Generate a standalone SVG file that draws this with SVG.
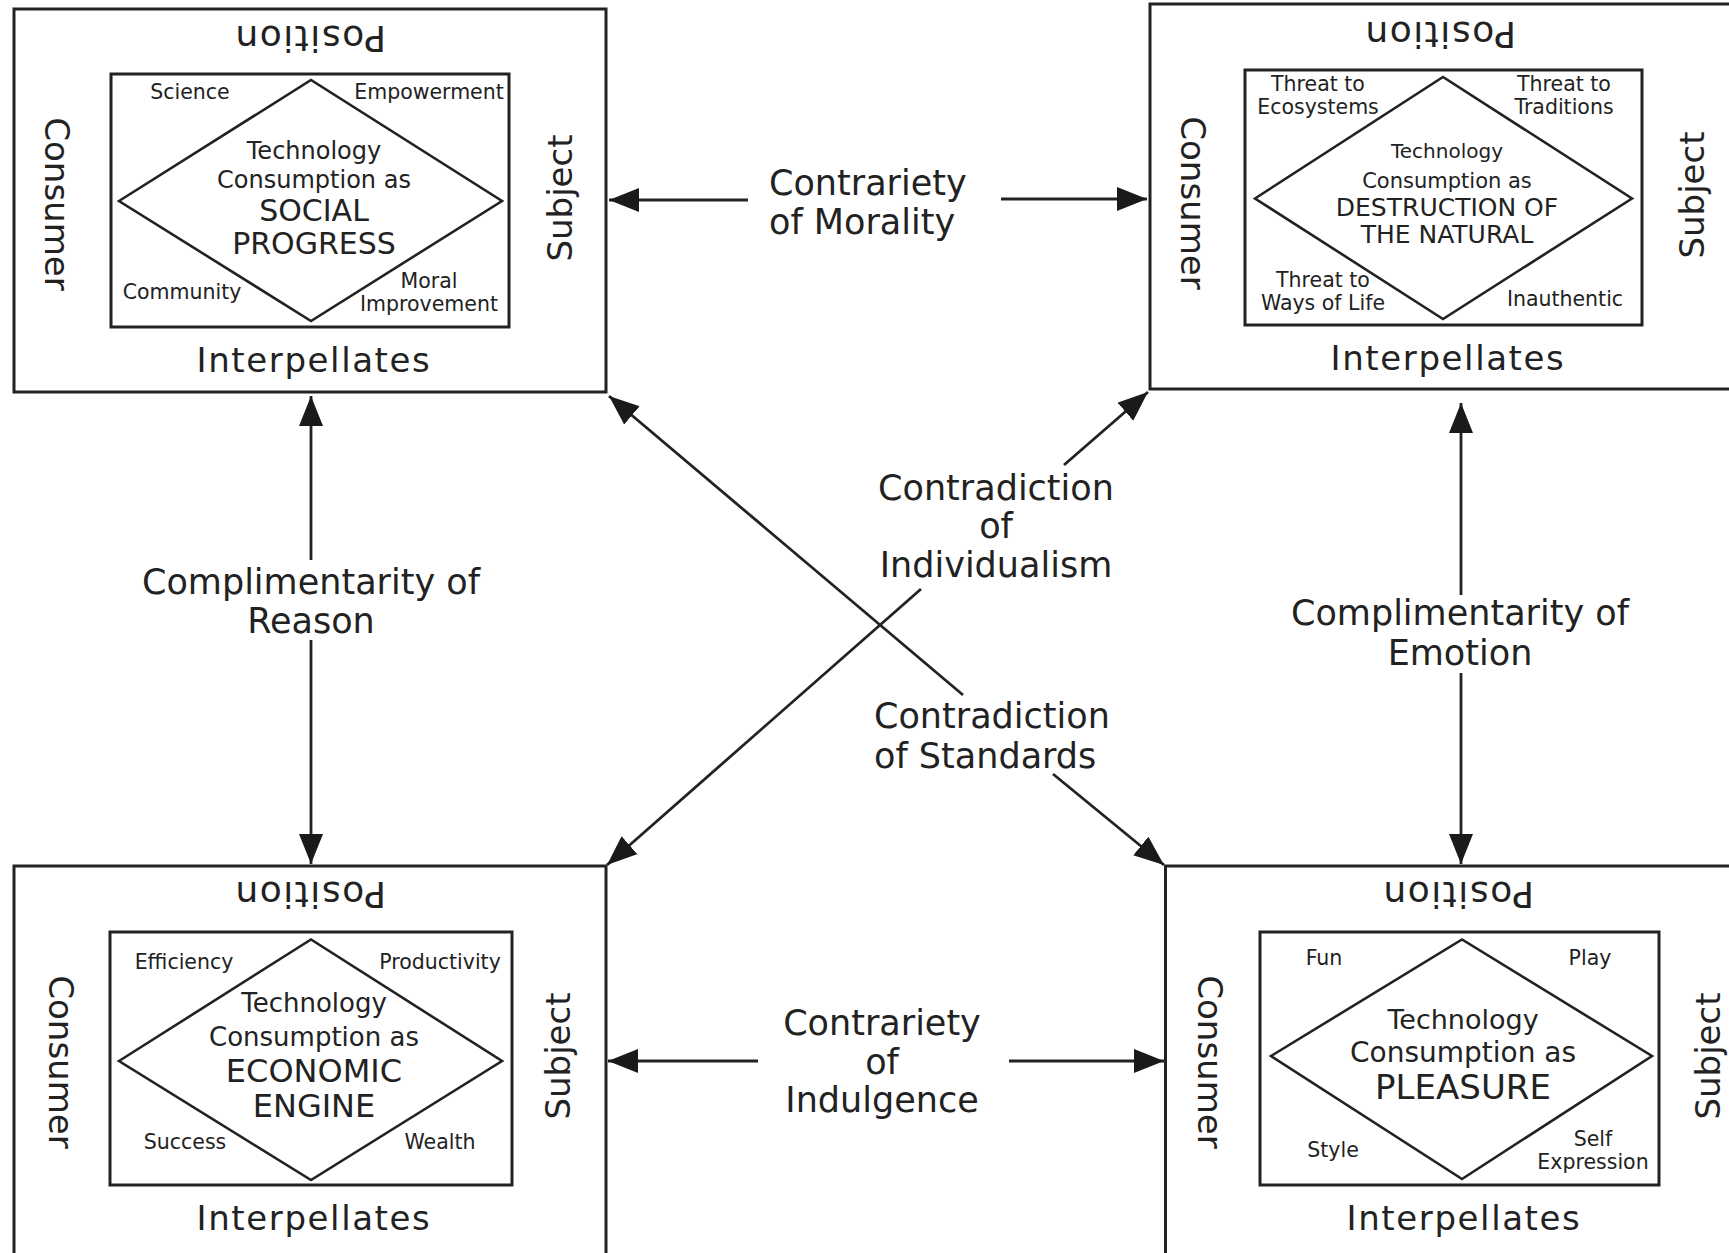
<svg xmlns="http://www.w3.org/2000/svg" width="1729" height="1253" viewBox="0 0 1729 1253">
  <style>
    text { font-family: "DejaVu Sans", Verdana, sans-serif; fill: #222; }
    .frame { fill: none; stroke: #222; stroke-width: 3; }
    .inner { fill: none; stroke: #222; stroke-width: 3; }
    .diamond { fill: none; stroke: #222; stroke-width: 2.6; }
    .lbl { font-size: 34px; text-anchor: middle; }
    .pos { font-size: 36px; letter-spacing: 1.5px; }
    .int { letter-spacing: 1.6px; }
    .corner { font-size: 20.5px; text-anchor: middle; }
    .mid { text-anchor: middle; }
    .link { stroke: #222; stroke-width: 2.8; fill: none; marker-end: url(#head); }
    .ctext { font-size: 35px; }
  </style>
  <defs>
    <marker id="head" markerUnits="userSpaceOnUse" markerWidth="32" markerHeight="26" refX="30" refY="12" orient="auto">
      <path d="M0,0 L30,12 L0,24 Z" fill="#1a1a1a"/>
    </marker>
  </defs>
  <rect width="1729" height="1253" fill="#fff"/>

  <!-- Social progress -->
  <g id="social-progress">
    <rect class="frame" x="14" y="9" width="592" height="383"/>
    <rect class="inner" x="111" y="74" width="398" height="253"/>
    <polygon class="diamond" points="119,201 311,80 502,201 311,321"/>
    <text class="lbl pos" transform="translate(310,39) rotate(180)" y="13">Position</text>
    <text class="lbl" transform="translate(57,204) rotate(90)" y="12">Consumer</text>
    <text class="lbl" transform="translate(560,198) rotate(-90)" y="12">Subject</text>
    <text class="lbl int" x="314" y="372">Interpellates</text>
    <text class="mid" x="314" y="159" font-size="24">Technology</text>
    <text class="mid" x="314" y="188" font-size="24">Consumption as</text>
    <text class="mid" x="314" y="221" font-size="30">SOCIAL</text>
    <text class="mid" x="314" y="254" font-size="30">PROGRESS</text>
    <text class="corner" x="190" y="99">Science</text>
    <text class="corner" x="429" y="99">Empowerment</text>
    <text class="corner" x="182" y="299">Community</text>
    <text class="corner" x="429" y="288">Moral</text>
    <text class="corner" x="429" y="311">Improvement</text>
  </g>

  <!-- Destruction of the natural -->
  <g id="destruction-of-the-natural">
    <rect class="frame" x="1150" y="4" width="620" height="385"/>
    <rect class="inner" x="1245" y="70" width="397" height="255"/>
    <polygon class="diamond" points="1255,198.5 1443,77 1632,198.5 1443,319"/>
    <text class="lbl pos" transform="translate(1440,35) rotate(180)" y="13">Position</text>
    <text class="lbl" transform="translate(1193,203) rotate(90)" y="12">Consumer</text>
    <text class="lbl" transform="translate(1692,195) rotate(-90)" y="12">Subject</text>
    <text class="lbl int" x="1448" y="370">Interpellates</text>
    <text class="mid" x="1447" y="158" font-size="20">Technology</text>
    <text class="mid" x="1447" y="187.5" font-size="21">Consumption as</text>
    <text class="mid" x="1447" y="216" font-size="25">DESTRUCTION OF</text>
    <text class="mid" x="1447" y="243" font-size="25">THE NATURAL</text>
    <text class="corner" x="1318" y="91">Threat to</text>
    <text class="corner" x="1318" y="114">Ecosystems</text>
    <text class="corner" x="1564" y="91">Threat to</text>
    <text class="corner" x="1564" y="114">Traditions</text>
    <text class="corner" x="1323" y="287">Threat to</text>
    <text class="corner" x="1323" y="310">Ways of Life</text>
    <text class="corner" x="1565" y="306">Inauthentic</text>
  </g>

  <!-- Economic engine -->
  <g id="economic-engine">
    <rect class="frame" x="14" y="866" width="592" height="400"/>
    <rect class="inner" x="110" y="932" width="402" height="253"/>
    <polygon class="diamond" points="119,1061 311,939.5 502,1061 311,1180"/>
    <text class="lbl pos" transform="translate(310,895) rotate(180)" y="13">Position</text>
    <text class="lbl" transform="translate(61,1062) rotate(90)" y="12">Consumer</text>
    <text class="lbl" transform="translate(558,1056) rotate(-90)" y="12">Subject</text>
    <text class="lbl int" x="314" y="1230">Interpellates</text>
    <text class="mid" x="314" y="1012" font-size="26">Technology</text>
    <text class="mid" x="314" y="1046" font-size="26">Consumption as</text>
    <text class="mid" x="314" y="1082" font-size="32">ECONOMIC</text>
    <text class="mid" x="314" y="1117" font-size="32">ENGINE</text>
    <text class="corner" x="184" y="968.5">Efficiency</text>
    <text class="corner" x="440" y="968.5">Productivity</text>
    <text class="corner" x="185" y="1149">Success</text>
    <text class="corner" x="440" y="1149">Wealth</text>
  </g>

  <!-- Pleasure -->
  <g id="pleasure">
    <rect class="frame" x="1165.5" y="866" width="620" height="400"/>
    <rect class="inner" x="1260" y="932" width="399" height="253"/>
    <polygon class="diamond" points="1271,1056 1462,939.5 1652,1056 1462,1179"/>
    <text class="lbl pos" transform="translate(1458,895) rotate(180)" y="13">Position</text>
    <text class="lbl" transform="translate(1210,1062) rotate(90)" y="12">Consumer</text>
    <text class="lbl" transform="translate(1708,1056) rotate(-90)" y="12">Subject</text>
    <text class="lbl int" x="1464" y="1230">Interpellates</text>
    <text class="mid" x="1463" y="1029" font-size="27">Technology</text>
    <text class="mid" x="1463" y="1062" font-size="28">Consumption as</text>
    <text class="mid" x="1463" y="1099" font-size="34">PLEASURE</text>
    <text class="corner" x="1324" y="965">Fun</text>
    <text class="corner" x="1590" y="965">Play</text>
    <text class="corner" x="1333" y="1157">Style</text>
    <text class="corner" x="1593" y="1146">Self</text>
    <text class="corner" x="1593" y="1169">Expression</text>
  </g>

  <!-- Relations between the four positions -->
  <g id="connectors">
    <!-- contrariety of morality -->
    <line class="link" x1="748" y1="200" x2="609" y2="200"/>
    <line class="link" x1="1001" y1="199" x2="1147" y2="199"/>
    <!-- complimentarity of reason -->
    <line class="link" x1="311" y1="560" x2="311" y2="396"/>
    <line class="link" x1="311" y1="640" x2="311" y2="864"/>
    <!-- complimentarity of emotion -->
    <line class="link" x1="1461" y1="595" x2="1461" y2="403"/>
    <line class="link" x1="1461" y1="673" x2="1461" y2="864"/>
    <!-- contrariety of indulgence -->
    <line class="link" x1="758" y1="1061" x2="608" y2="1061"/>
    <line class="link" x1="1009" y1="1061" x2="1164" y2="1061"/>
    <!-- contradiction of individualism -->
    <line class="link" x1="921" y1="589" x2="607" y2="865"/>
    <line class="link" x1="1064" y1="465" x2="1148" y2="392"/>
    <!-- contradiction of standards -->
    <line class="link" x1="963" y1="695" x2="609" y2="396"/>
    <line class="link" x1="1053" y1="774" x2="1164" y2="865"/>

    <text class="ctext" x="769" y="195">Contrariety</text>
    <text class="ctext" x="769" y="234">of Morality</text>
    <text class="ctext mid" x="311" y="594">Complimentarity of</text>
    <text class="ctext mid" x="311" y="633">Reason</text>
    <text class="ctext mid" x="1460" y="625">Complimentarity of</text>
    <text class="ctext mid" x="1460" y="665">Emotion</text>
    <text class="ctext mid" x="882" y="1035">Contrariety</text>
    <text class="ctext mid" x="882" y="1074">of</text>
    <text class="ctext mid" x="882" y="1112">Indulgence</text>
    <text class="ctext mid" x="996" y="500">Contradiction</text>
    <text class="ctext mid" x="996" y="538">of</text>
    <text class="ctext mid" x="996" y="577">Individualism</text>
    <text class="ctext" x="874" y="728">Contradiction</text>
    <text class="ctext" x="874" y="768">of Standards</text>
  </g>
</svg>
